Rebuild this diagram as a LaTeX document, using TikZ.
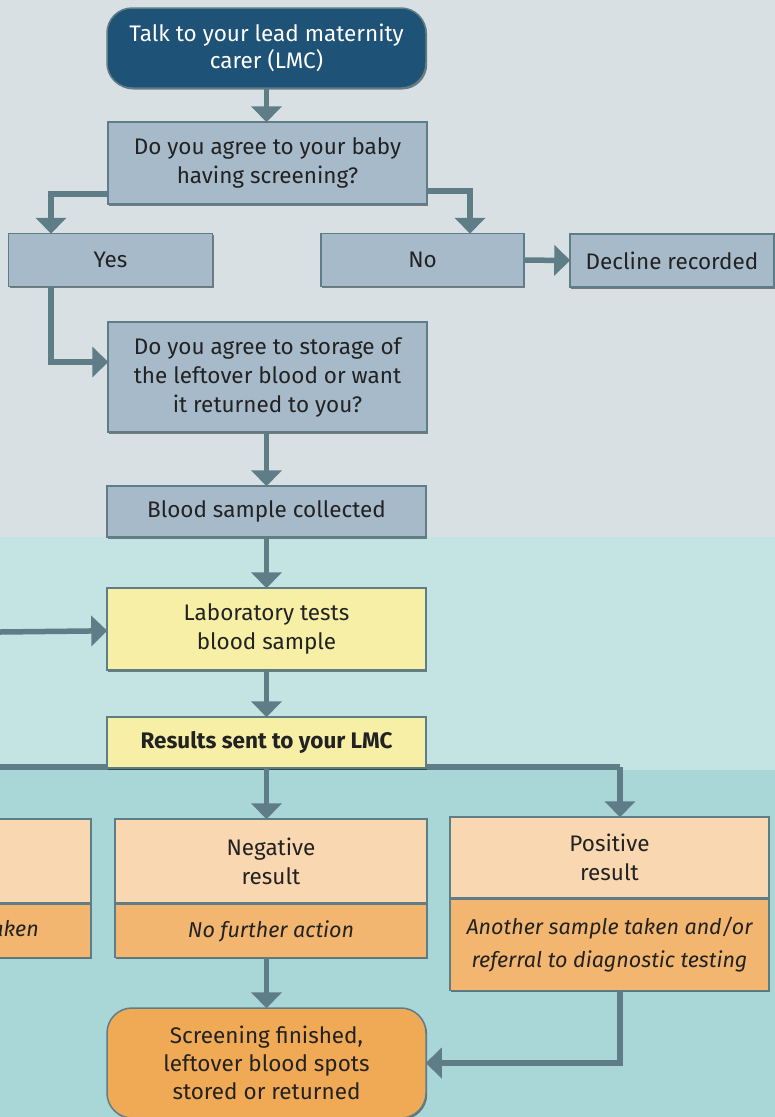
\documentclass[tikz,border=0pt]{standalone}
\usepackage{fontspec}
\setmainfont{Fira Sans}
\usetikzlibrary{arrows.meta,shadows}
\definecolor{bgA}{HTML}{D8E0E3}
\definecolor{bgB}{HTML}{C4E3E3}
\definecolor{bgC}{HTML}{A9D6D7}
\definecolor{navy}{HTML}{1F5277}
\definecolor{boxblue}{HTML}{A7BACA}
\definecolor{edge}{HTML}{5F7D87}
\definecolor{lemon}{HTML}{F6EFA5}
\definecolor{peach}{HTML}{F9D7B0}
\definecolor{apricot}{HTML}{F2B670}
\definecolor{amber}{HTML}{F0AA56}
\definecolor{ink}{HTML}{222222}
\begin{document}
\begin{tikzpicture}[x=1pt,y=-1pt,
  base/.style={draw=edge, line width=1.5pt, inner sep=0pt, align=center, text=ink,
    font=\fontsize{22.5}{29}\selectfont,
    drop shadow={shadow xshift=1.2pt, shadow yshift=-1.5pt, fill=black, opacity=0.45}},
  qbox/.style={base, fill=boxblue},
  ybox/.style={base, fill=lemon},
  ptop/.style={base, fill=peach},
  pbot/.style={base, fill=apricot, font=\fontsize{21.5}{33}\selectfont\itshape},
  roundbox/.style={base, rounded corners=25pt},
  conn/.style={draw=edge, line width=5.5pt},
  arr/.style={conn, -{Triangle[width=30pt,length=16pt]}, shorten >=-1pt}
]
\clip (0,0) rectangle (775,1117);
\useasboundingbox (0,0) rectangle (775,1117);
% bands
\fill[bgA] (0,0) rectangle (775,537);
\fill[bgB] (0,537) rectangle (775,770);
\fill[bgC] (0,770) rectangle (775,1117);

% horizontal results line (drawn beneath boxes)
\coordinate (rl) at (0,767);
\coordinate (rr) at (620,767);
\draw[conn] (rl) -- (rr);
\coordinate (labin) at (0,632);

% nodes
\node[roundbox, fill=navy, text=white, minimum width=319pt, minimum height=80pt,
  font=\fontsize{22.5}{27}\selectfont] (talk) at (266.5,48) {Talk to your lead maternity\\carer (LMC)};
\node[qbox, minimum width=319pt, minimum height=82pt] (q1) at (267.5,163) {Do you agree to your baby\\having screening?};
\node[qbox, minimum width=204pt, minimum height=53pt] (yes) at (110.5,260) {Yes};
\node[qbox, minimum width=203pt, minimum height=53pt] (no) at (422.5,260) {No};
\node[qbox, minimum width=204pt, minimum height=53pt] (dec) at (672,260.5) {Decline recorded};
\node[qbox, minimum width=319pt, minimum height=110pt] (q2) at (267.5,377) {Do you agree to storage of\\the leftover blood or want\\it returned to you?};
\node[qbox, minimum width=319pt, minimum height=51pt] (blood) at (266.5,511.5) {Blood sample collected};
\node[ybox, minimum width=319pt, minimum height=82pt] (lab) at (266.5,629) {Laboratory tests\\blood sample};
\node[ybox, minimum width=319pt, minimum height=51pt, font=\fontsize{22.5}{29}\selectfont\bfseries] (res) at (266.5,742.5) {Results sent to your LMC};

% left partial box
\node[ptop, minimum width=191pt, minimum height=84pt] (inc) at (-4.5,861) {};
\node[pbot, minimum width=191pt, minimum height=53pt, anchor=north] (incB) at (inc.south) {};
\node[font=\fontsize{21.5}{29}\selectfont\itshape, text=ink, anchor=east, inner sep=0pt] (incT) at (39,929) {taken};

\node[ptop, minimum width=312pt, minimum height=84pt] (neg) at (271,861) {Negative\\result};
\node[pbot, minimum width=312pt, minimum height=53pt, anchor=north] (negB) at (neg.south) {No further action};
\node[ptop, minimum width=319pt, minimum height=81pt] (pos) at (609.5,857.5) {Positive\\result};
\node[pbot, minimum width=319pt, minimum height=91pt, anchor=north] (posB) at (pos.south) {Another sample taken and/or\\referral to diagnostic testing};

\node[roundbox, fill=amber, minimum width=319pt, minimum height=110pt,
  font=\fontsize{22.5}{28}\selectfont] (fin) at (266.5,1063) {Screening finished,\\leftover blood spots\\stored or returned};

% connectors
\draw[arr] (talk.south) -- (talk.south |- q1.north);
\draw[arr] ([yshift=11pt]q1.south west) -| (yes.north -| 51,0);
\draw[arr] ([yshift=14pt]q1.south east) -| (no.north -| 470,0);
\draw[arr] (yes.south -| 51,0) |- (q2.west |- 0,362);
\draw[arr] (no) -- (dec);
\draw[arr] (q2.south -| blood.north) -- (blood.north);
\draw[arr] (blood) -- (lab);
\draw[arr] (labin) -- (lab);
\draw[arr] (lab) -- (res);
\draw[arr] (res.south) -- (res.south |- neg.north);
\draw[arr] (rr) -- (rr |- pos.north);
\draw[arr] (negB.south -| fin.north) -- (fin.north);
\draw[arr] (posB.south -| 620,0) |- (fin.east |- 0,1063);
\end{tikzpicture}
\end{document}
